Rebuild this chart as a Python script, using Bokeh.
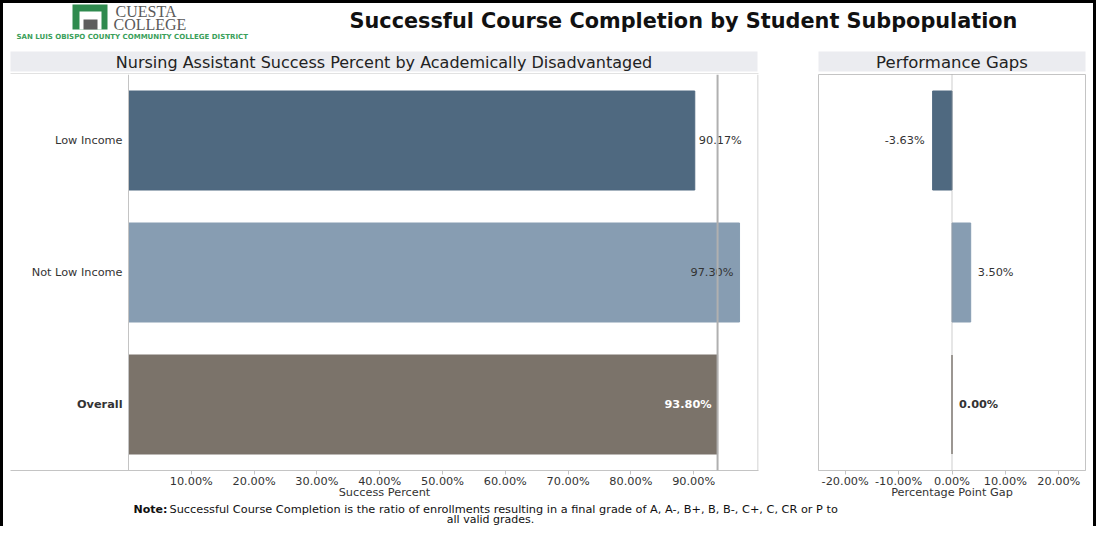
from bokeh.plotting import figure
from bokeh.layouts import row, column
from bokeh.models import (Range1d, FactorRange, Span, FixedTicker, NumeralTickFormatter,
                          ColumnDataSource, Spacer, BoxAnnotation)
from bokeh.embed import file_html
from bokeh.resources import INLINE
from bokeh.core.properties import value

# ---------------- data ----------------
categories = ["Low Income", "Not Low Income", "Overall"]
success_pct = [0.9017, 0.9730, 0.9380]
gap_pct = [-0.0363, 0.0350, 0.0000]
success_ticks = [0.1, 0.2, 0.3, 0.4, 0.5, 0.6, 0.7, 0.8, 0.9]
gap_ticks = [-0.2, -0.1, 0.0, 0.1, 0.2]
bar_colors = ["#4f6980", "#879db2", "#7b736a"]

title_text = "Successful Course Completion by Student Subpopulation"
left_header = "Nursing Assistant Success Percent by Academically Disadvantaged"
right_header = "Performance Gaps"
left_xlabel = "Success Percent"
right_xlabel = "Percentage Point Gap"
note_bold = "Note:"
note_line1 = ("Successful Course Completion is the ratio of enrollments resulting in a final "
              "grade of A, A-, B+, B, B-, C+, C, CR or P to")
note_line2 = "all valid grades."
logo_top = "CUESTA"
logo_bottom = "COLLEGE"
logo_sub = "SAN LUIS OBISPO COUNTY COMMUNITY COLLEGE DISTRICT"

# ---------------- styles ----------------
FONT = "DejaVu Sans"
SMALL = "11.3px"
TXT = "#333333"
GRAY = "#c4c4c4"
HEADER_FILL = "#ebecf0"

INNER_W = 1090
TOP_H = 71
MID_H = 428
NOTE_H = 24
X0, Y0 = 11, 11
BOTTOM_BORDER = 32

# left panel pixel geometry (page coords)
PX_ZERO, PX_PER = 136, 628
FRAME_L, FRAME_R = 18, 766


def page_fig(w, h, x0, y0):
    f = figure(width=w, height=h, x_range=Range1d(x0, x0 + w), y_range=Range1d(y0 + h, y0),
               output_backend="svg", toolbar_location=None, tools="", min_border=0,
               x_axis_location=None, y_axis_location=None)
    f.outline_line_color = None
    f.grid.visible = False
    f.background_fill_color = "white"
    f.border_fill_color = "white"
    return f


def band(fig, l, r, t, b, color):
    fig.add_layout(BoxAnnotation(left=l, right=r, top=t, bottom=b, fill_color=color,
                                 fill_alpha=1, line_color=None, level="underlay"))


def style_axis(ax, label):
    ax.axis_label = label
    ax.axis_line_color = GRAY
    ax.major_tick_line_color = GRAY
    ax.major_tick_out = 4
    ax.major_tick_in = 0
    ax.minor_tick_line_color = None
    ax.major_label_text_font = FONT
    ax.major_label_text_font_size = SMALL
    ax.major_label_text_color = TXT
    ax.major_label_standoff = 0
    ax.axis_label_text_font = FONT
    ax.axis_label_text_font_size = SMALL
    ax.axis_label_text_font_style = "normal"
    ax.axis_label_text_color = TXT
    ax.axis_label_standoff = -5
    ax.formatter = NumeralTickFormatter(format="0.00%")


# ---------------- top strip: logo, title, panel headers ----------------
top = page_fig(INNER_W, TOP_H, X0, Y0)
band(top, 80, 115, 12, 37, "#2f8a4e")
band(top, 87, 109, 19, 37, "white")
band(top, 91, 105, 27, 37, "#5e5e5e")
top.text(x=[123], y=[19], text=[logo_top], text_font=value("Liberation Serif"),
         text_font_size="16px", text_color="#5a5a5a", text_baseline="middle")
top.text(x=[121], y=[32], text=[logo_bottom], text_font=value("Liberation Serif"),
         text_font_size="16px", text_color="#5a5a5a", text_baseline="middle")
top.text(x=[24], y=[44], text=[logo_sub], text_font=value(FONT), text_font_style="bold",
         text_font_size="7px", text_color="#3aa05a", text_baseline="middle")
top.text(x=[691], y=[28], text=[title_text], text_font=value(FONT), text_font_style="bold",
         text_font_size="20.8px", text_color="#111111", text_align="center",
         text_baseline="middle")
band(top, 18, 765, 59, 79, HEADER_FILL)
band(top, 826, 1093, 59, 79, HEADER_FILL)
top.text(x=[391.5], y=[69.5], text=[left_header], text_font=value(FONT), text_font_size="16px",
         text_color="#222222", text_align="center", text_baseline="middle")
top.text(x=[959.5], y=[69.5], text=[right_header], text_font=value(FONT),
         text_font_size="16.5px", text_color="#222222", text_align="center",
         text_baseline="middle")
top.segment(x0=[18], y0=[81.5], x1=[766], y1=[81.5], line_color=GRAY, line_width=1)

# ---------------- shared data source ----------------
succ_inside = [False, True, True]
src = ColumnDataSource(dict(
    cat=categories,
    succ=success_pct,
    gap=gap_pct,
    color=bar_colors,
    succ_label=[f"{v * 100:.2f}%" for v in success_pct],
    gap_label=[f"{v * 100:.2f}%" for v in gap_pct],
    cat_style=["normal", "normal", "bold"],
    s_off=[-6 if i else 4 for i in succ_inside],
    s_align=["right" if i else "left" for i in succ_inside],
    s_color=["#333333", "#333333", "#ffffff"],
    s_style=["normal", "normal", "bold"],
    g_off=[-8 if g < 0 else 7 for g in gap_pct],
    g_align=["right" if g < 0 else "left" for g in gap_pct],
    g_style=["normal", "normal", "bold"],
))

# ---------------- left panel ----------------
p1 = figure(width=784, height=MID_H,
            x_range=Range1d((FRAME_L - PX_ZERO) / PX_PER, (FRAME_R - PX_ZERO) / PX_PER),
            y_range=FactorRange(factors=categories[::-1], range_padding=0),
            output_backend="svg", toolbar_location=None, tools="",
            min_border_left=7, min_border_right=29, min_border_top=0,
            min_border_bottom=BOTTOM_BORDER, y_axis_location=None)
p1.outline_line_color = None
p1.grid.visible = False
p1.hbar(y="cat", left=0, right="succ", height=0.75, fill_color="color", line_color="color",
        source=src)
p1.add_layout(Span(location=0, dimension="height", line_color=GRAY, line_width=1))
p1.add_layout(Span(location=success_pct[2], dimension="height", line_color="#b0b0b0",
                   line_width=2))
p1.add_layout(Span(location=(765.5 - PX_ZERO) / PX_PER, dimension="height", line_color=GRAY,
                   line_width=1))
p1.text(x=0, y="cat", text="cat", x_offset=-6, text_align="right", text_baseline="middle",
        text_font=value(FONT), text_font_size=SMALL, text_color=TXT,
        text_font_style="cat_style", source=src)
p1.text(x="succ", y="cat", text="succ_label", x_offset="s_off", text_align="s_align",
        text_baseline="middle", text_font=value(FONT), text_font_size=SMALL,
        text_color="s_color", text_font_style="s_style", source=src)
p1.xaxis.ticker = FixedTicker(ticks=success_ticks)
style_axis(p1.xaxis[0], left_xlabel)

# ---------------- right panel ----------------
p2 = figure(width=306, height=MID_H, x_range=Range1d(-0.25, 0.25),
            y_range=FactorRange(factors=categories[::-1], range_padding=0),
            output_backend="svg", toolbar_location=None, tools="",
            min_border_left=31, min_border_right=8, min_border_top=0,
            min_border_bottom=BOTTOM_BORDER, y_axis_location=None)
p2.outline_line_color = GRAY
p2.grid.visible = False
p2.add_layout(Span(location=0, dimension="height", line_color="#9a9a9a", line_width=1,
                   line_dash="1 1"))
p2.hbar(y="cat", left=0, right="gap", height=0.75, fill_color="color", line_color="color",
        source=src)
p2.text(x="gap", y="cat", text="gap_label", x_offset="g_off", text_align="g_align",
        text_baseline="middle", text_font=value(FONT), text_font_size=SMALL, text_color=TXT,
        text_font_style="g_style", source=src)
p2.xaxis.ticker = FixedTicker(ticks=gap_ticks)
style_axis(p2.xaxis[0], right_xlabel)

# ---------------- note ----------------
NOTE_Y0 = Y0 + TOP_H + MID_H
note = page_fig(INNER_W, NOTE_H, X0, NOTE_Y0)
note.text(x=[141], y=[NOTE_Y0 + 7], text=[note_bold], text_font=value(FONT),
          text_font_style="bold", text_font_size="11px", text_color="#111111",
          text_baseline="middle")
note.text(x=[177], y=[NOTE_Y0 + 7], text=[note_line1], text_font=value(FONT),
          text_font_size="11.3px", text_color="#111111", text_baseline="middle")
note.text(x=[498], y=[NOTE_Y0 + 17], text=[note_line2], text_font=value(FONT),
          text_font_size="11px", text_color="#111111", text_align="center",
          text_baseline="middle")

# ---------------- assemble with black frame ----------------
BLACK = {"background-color": "black"}
inner = column(top, row(p1, p2), note)
layout = column(
    Spacer(width=1096, height=3, styles=BLACK),
    row(Spacer(width=3, height=TOP_H + MID_H + NOTE_H, styles=BLACK), inner,
        Spacer(width=3, height=TOP_H + MID_H + NOTE_H, styles=BLACK)),
)

open("out.html", "w").write(file_html(layout, INLINE))
